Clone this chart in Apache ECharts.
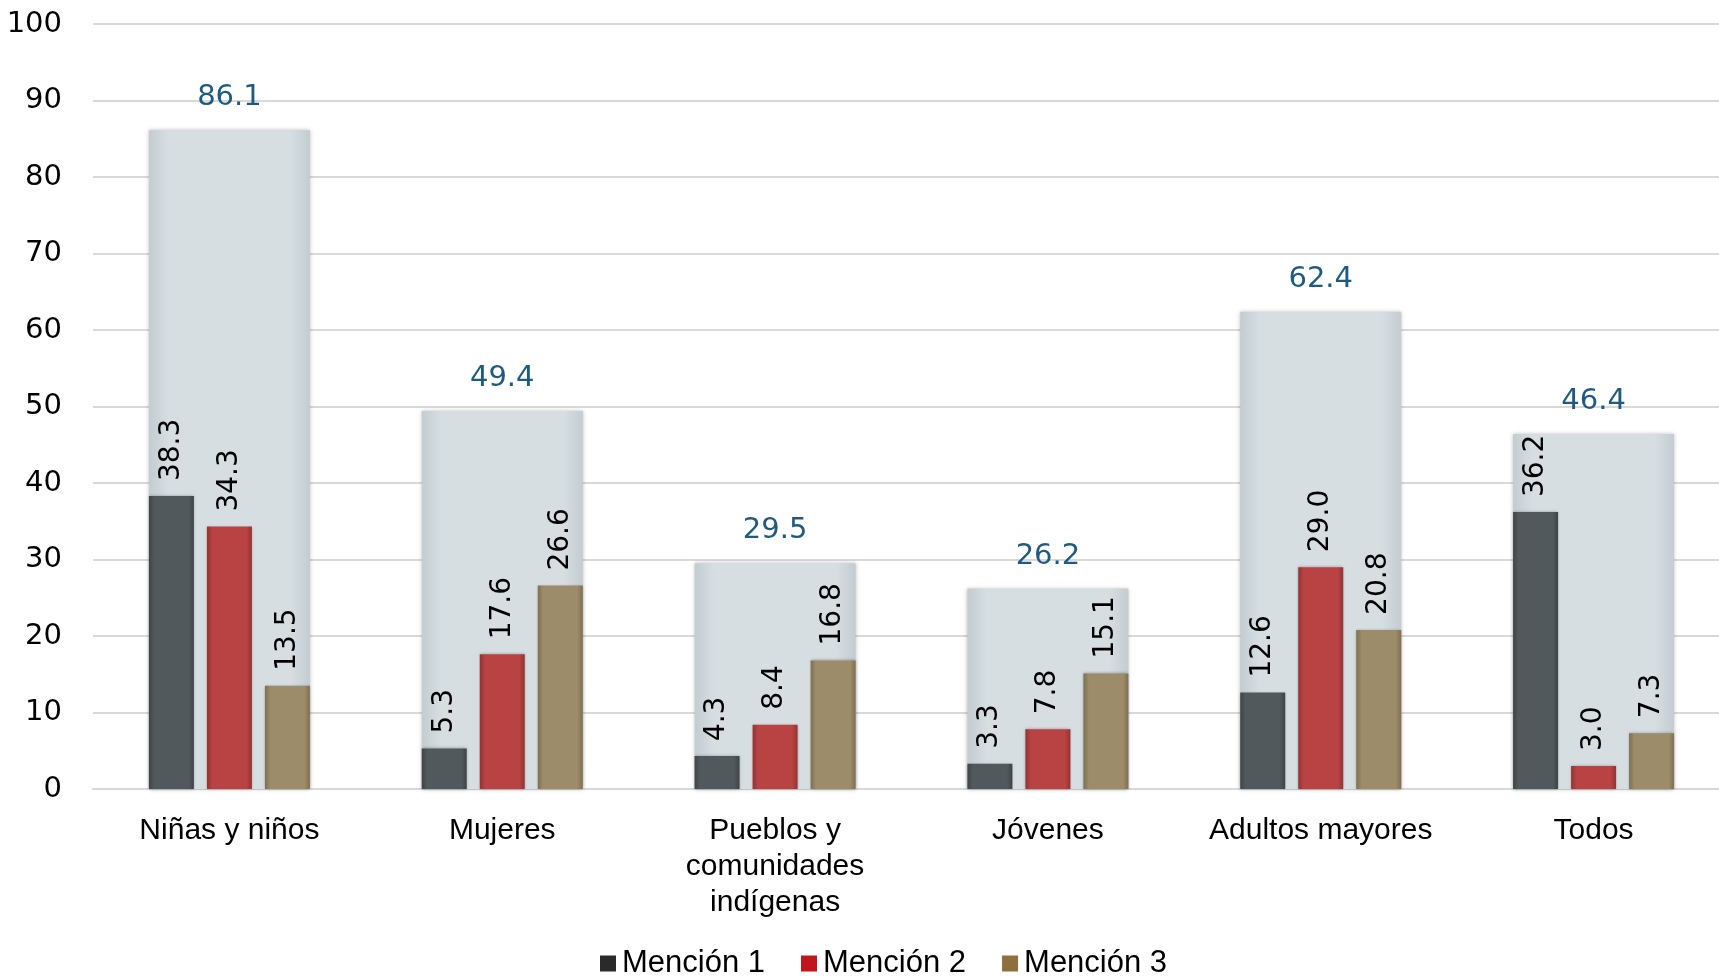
<!DOCTYPE html>
<html>
<head>
<meta charset="utf-8">
<script src="https://cdn.jsdelivr.net/npm/echarts@6/dist/echarts.min.js"></script>
<style>html,body{margin:0;padding:0;background:#fff;overflow:hidden}#c{width:1730px;height:976px}</style>
</head>
<body>
<div id="c"></div>
<script>
const categories = ['Niñas y niños', 'Mujeres', 'Pueblos y\ncomunidades\nindígenas', 'Jóvenes', 'Adultos mayores', 'Todos'];
const mencion1 = [38.3, 5.3, 4.3, 3.3, 12.6, 36.2];
const mencion2 = [34.3, 17.6, 8.4, 7.8, 29.0, 3.0];
const mencion3 = [13.5, 26.6, 16.8, 15.1, 20.8, 7.3];
const totals = [86.1, 49.4, 29.5, 26.2, 62.4, 46.4];
const seriesNames = ['Mención 1', 'Mención 2', 'Mención 3'];

const FONT = 'Liberation Sans';
const NUMFONT = 'DejaVu Sans';
function grad(edge, mid) {
  return new echarts.graphic.LinearGradient(0, 0, 1, 0, [
    {offset: 0, color: edge}, {offset: 0.12, color: mid}, {offset: 0.88, color: mid}, {offset: 1, color: edge}
  ]);
}
const colors = [
  {edge: '#3e4446', mid: '#52595c', legend: '#2a2a2a'},
  {edge: '#933232', mid: '#b94343', legend: '#c0161c'},
  {edge: '#7e6f52', mid: '#9d8c69', legend: '#8f6f3c'}
];
const subLabel = {
  show: true, position: 'top', rotate: 90, align: 'left', verticalAlign: 'middle',
  distance: 15, fontFamily: NUMFONT, fontSize: 28, color: '#000',
  formatter: p => p.value.toFixed(1)
};
const data = [mencion1, mencion2, mencion3];
const series = [{
  type: 'bar', name: 'Total', xAxisIndex: 1, data: totals, barCategoryGap: '41%', z: 1,
  itemStyle: {color: grad('#c3ccd1', '#d6dee2'), shadowColor: 'rgba(0,0,0,0.25)', shadowBlur: 4},
  label: {show: true, position: 'top', distance: 18, fontFamily: NUMFONT, fontSize: 29, color: '#1f5b80',
    formatter: p => p.value.toFixed(1)},
  silent: true
}];
data.forEach((d, i) => {
  series.push({
    type: 'bar', name: seriesNames[i], xAxisIndex: 0, data: d, z: 3,
    barGap: '29%', barCategoryGap: '41%',
    itemStyle: {color: grad(colors[i].edge, colors[i].mid), shadowColor: 'rgba(0,0,0,0.3)', shadowBlur: 3},
    label: subLabel
  });
});
const chart = echarts.init(document.getElementById('c'));
chart.setOption({
  animation: false,
  textStyle: {fontFamily: FONT},
  grid: {left: 93, right: 0, top: 24, bottom: 187},
  legend: {
    data: seriesNames.map((n, i) => ({name: n, itemStyle: {color: colors[i].legend}})),
    top: 943, left: 595, itemWidth: 16, itemHeight: 16, itemGap: 36, icon: 'rect',
    textStyle: {fontFamily: FONT, fontSize: 31, color: '#000', padding: [0, 0, 0, 1]}
  },
  xAxis: [{
    type: 'category', data: categories,
    axisLine: {show: true, lineStyle: {color: '#d9d9d9', width: 2}},
    axisTick: {show: false},
    axisLabel: {fontFamily: FONT, fontSize: 30, color: '#000', margin: 24, lineHeight: 36, interval: 0}
  }, {
    type: 'category', data: categories, show: false
  }],
  yAxis: {
    type: 'value', min: 0, max: 100, interval: 10,
    axisLine: {show: false}, axisTick: {show: false},
    axisLabel: {fontFamily: NUMFONT, fontSize: 29, color: '#000', margin: 31},
    splitLine: {lineStyle: {color: '#d9d9d9', width: 2}}
  },
  series: series
});
</script>
</body>
</html>
